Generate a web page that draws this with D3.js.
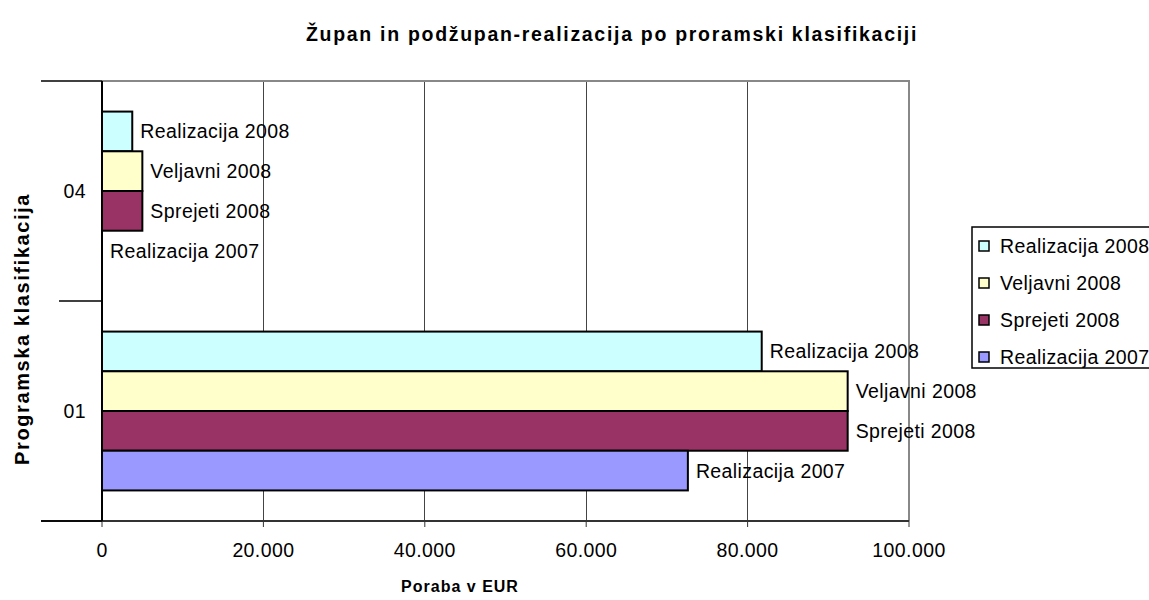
<!DOCTYPE html>
<html>
<head>
<meta charset="utf-8">
<script src="https://cdn.jsdelivr.net/npm/d3@7"></script>
<style>
	body { margin: 0; background: #fff; }
	text { font-family: 'Liberation Sans', Arial, sans-serif; fill: #000; }
	.bar-label, .tick-label, .legend-label { font-size: 19.5px; letter-spacing: 0.4px; }
	.title { font-size: 19.5px; font-weight: bold; letter-spacing: 1.7px; }
	.axis-title { font-size: 16px; font-weight: bold; letter-spacing: 1px; }
	.y-title { font-size: 20px; font-weight: bold; letter-spacing: 1.6px; }
</style>
</head>
<body>
<div id="chart"></div>
<script>
// categories drawn top to bottom
const categories = ['04', '01'];
const seriesNames = ['Realizacija 2008', 'Veljavni 2008', 'Sprejeti 2008', 'Realizacija 2007'];
const seriesColors = ['#CCFFFF', '#FFFFCC', '#993366', '#9999FF'];
// values per category, in series order
const values04 = [3750, 5000, 5000, 0];
const values01 = [81750, 92400, 92400, 72600];
const xTicks = [0, 20000, 40000, 60000, 80000, 100000];

const W = 1149, H = 600;
const plot = { left: 102, right: 909, top: 81, bottom: 521 };

const svg = d3.select('#chart').append('svg').attr('width', W).attr('height', H);

const x = d3.scaleLinear().domain([0, 100000]).range([plot.left, plot.right]);
const y0 = d3.scaleBand().domain(categories).range([plot.top, plot.bottom]);
const y1 = d3.scaleBand().domain(seriesNames).range([0, y0.bandwidth()]).paddingOuter(0.77);
const color = d3.scaleOrdinal().domain(seriesNames).range(seriesColors);

const data = categories.map((c, i) => ({
	cat: c,
	vals: seriesNames.map((s, j) => ({ series: s, value: [values04, values01][i][j] })),
}));

const fmt = v => d3.format(',')(v).replace(/,/g, '.');

// gridlines
svg.append('g')
	.selectAll('line')
	.data(xTicks.slice(1, -1))
	.enter()
	.append('line')
	.attr('x1', d => x(d)).attr('x2', d => x(d))
	.attr('y1', plot.top).attr('y2', plot.bottom)
	.attr('stroke', '#444')
	.attr('shape-rendering', 'crispEdges');

// plot border (top / right)
svg.append('path')
	.attr('d', `M${plot.left},${plot.top}H${plot.right}V${plot.bottom}`)
	.attr('fill', 'none')
	.attr('stroke', '#888')
	.attr('stroke-width', 2);

// bars
const groups = svg.append('g')
	.selectAll('g')
	.data(data)
	.enter()
	.append('g')
	.attr('transform', d => 'translate(0,' + y0(d.cat) + ')');

groups.selectAll('rect')
	.data(d => d.vals.filter(v => v.value > 0))
	.enter()
	.append('rect')
	.attr('x', x(0))
	.attr('y', d => y1(d.series))
	.attr('width', d => x(d.value) - x(0))
	.attr('height', y1.bandwidth())
	.attr('fill', d => color(d.series))
	.attr('stroke', '#000')
	.attr('stroke-width', 2);

groups.selectAll('text')
	.data(d => d.vals)
	.enter()
	.append('text')
	.attr('class', 'bar-label')
	.attr('x', d => x(d.value) + 8)
	.attr('y', d => y1(d.series) + y1.bandwidth() / 2)
	.attr('dy', '0.36em')
	.text(d => d.series);

// x axis
svg.append('line')
	.attr('x1', 41).attr('x2', plot.right)
	.attr('y1', plot.bottom).attr('y2', plot.bottom)
	.attr('stroke', '#333').attr('stroke-width', 2);

svg.append('g')
	.selectAll('line')
	.data(xTicks)
	.enter()
	.append('line')
	.attr('x1', d => x(d)).attr('x2', d => x(d))
	.attr('y1', plot.bottom).attr('y2', plot.bottom + 6)
	.attr('stroke', '#333');

svg.append('g')
	.selectAll('text')
	.data(xTicks)
	.enter()
	.append('text')
	.attr('class', 'tick-label')
	.attr('x', d => x(d))
	.attr('y', 557)
	.attr('text-anchor', 'middle')
	.text(d => fmt(d));

// y axis
svg.append('line')
	.attr('x1', plot.left).attr('x2', plot.left)
	.attr('y1', plot.top).attr('y2', plot.bottom)
	.attr('stroke', '#000').attr('stroke-width', 2);

const boundaries = [plot.top, y0('01'), plot.bottom];
svg.append('g')
	.selectAll('line')
	.data(boundaries)
	.enter()
	.append('line')
	.attr('x1', (d, i) => (i === 1 ? 59 : 41))
	.attr('x2', plot.left)
	.attr('y1', d => d).attr('y2', d => d)
	.attr('stroke', '#000').attr('stroke-width', 1.5);

svg.append('g')
	.selectAll('text')
	.data(categories)
	.enter()
	.append('text')
	.attr('class', 'tick-label')
	.attr('x', 86)
	.attr('y', d => y0(d) + y0.bandwidth() / 2)
	.attr('dy', '0.36em')
	.attr('text-anchor', 'end')
	.text(d => d);

// titles
svg.append('text')
	.attr('class', 'title')
	.attr('x', 612).attr('y', 41)
	.attr('text-anchor', 'middle')
	.text('Župan in podžupan-realizacija po proramski klasifikaciji');

svg.append('text')
	.attr('class', 'axis-title')
	.attr('x', 460).attr('y', 592)
	.attr('text-anchor', 'middle')
	.text('Poraba v EUR');

svg.append('text')
	.attr('class', 'y-title')
	.attr('transform', 'translate(29,329) rotate(-90)')
	.attr('text-anchor', 'middle')
	.text('Programska klasifikacija');

// legend
const legend = svg.append('g').attr('transform', 'translate(972,227)');
legend.append('rect')
	.attr('width', 200).attr('height', 141)
	.attr('fill', '#fff')
	.attr('stroke', '#000').attr('stroke-width', 1.5);

const items = legend.selectAll('g')
	.data(seriesNames)
	.enter()
	.append('g')
	.attr('transform', (d, i) => 'translate(0,' + (19 + i * 37) + ')');

items.append('rect')
	.attr('x', 7).attr('y', -5)
	.attr('width', 10).attr('height', 10)
	.attr('fill', d => color(d))
	.attr('stroke', '#000').attr('stroke-width', 1.5);

items.append('text')
	.attr('class', 'legend-label')
	.attr('x', 28)
	.attr('dy', '0.36em')
	.text(d => d);
</script>
</body>
</html>
